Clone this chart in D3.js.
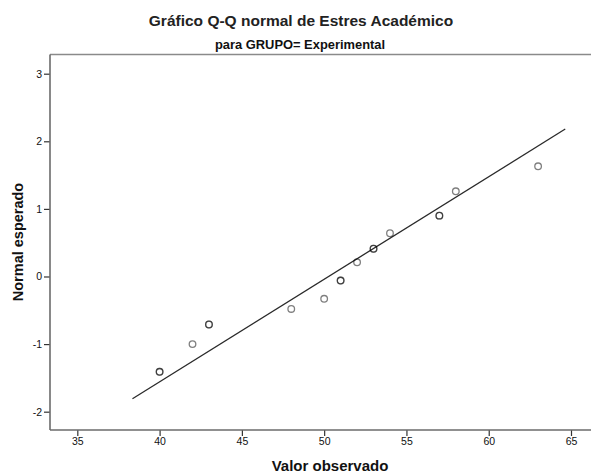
<!DOCTYPE html>
<html>
<head>
<meta charset="utf-8">
<script src="https://cdn.jsdelivr.net/npm/d3@7"></script>
<style>
  html, body { margin: 0; padding: 0; background: #fff; }
  svg { display: block; }
</style>
</head>
<body>
<svg id="chart" width="591" height="474"></svg>
<script>
// Observed values and their expected normal scores
const observed = [40, 42, 43, 48, 50, 51, 52, 53, 54, 57, 58, 63];
const expected = [-1.41, -1.0, -0.71, -0.48, -0.33, -0.06, 0.21, 0.41, 0.64, 0.90, 1.26, 1.63];
// number of cases sharing each value (tied cases overlap)
const cases = [2, 1, 2, 1, 1, 2, 1, 2, 1, 2, 1, 1];

const xTicks = [35, 40, 45, 50, 55, 60, 65];
const yTicks = [-2, -1, 0, 1, 2, 3];

// reference line: normal with mean and sd of the sample
const refMean = 50.27;
const refSd = 6.59;
const refRange = [38.35, 64.65];

const svg = d3.select("#chart");
const plotLeft = 50, plotRight = 591, plotTop = 54.5, plotBottom = 430;

const x = d3.scaleLinear().domain([33.34, 66.215]).range([plotLeft, plotRight]);
const y = d3.scaleLinear().domain([-2.271, 3.284]).range([plotBottom, plotTop]);

const font = "'Liberation Sans', Arial, sans-serif";
const axisColor = "#6b6b6b";

// titles
svg.append("text")
  .attr("x", 301).attr("y", 26)
  .attr("text-anchor", "middle")
  .style("font-family", font).style("font-size", "15.5px").style("font-weight", "bold")
  .attr("fill", "#222")
  .text("Gráfico Q-Q normal de Estres Académico");

svg.append("text")
  .attr("x", 300).attr("y", 48.5)
  .attr("text-anchor", "middle")
  .style("font-family", "'Liberation Sans Narrow', 'Arial Narrow', " + font)
  .style("font-size", "12.9px").style("font-weight", "bold")
  .attr("fill", "#111")
  .text("para GRUPO= Experimental");

// frame top line
svg.append("line")
  .attr("x1", plotLeft).attr("x2", plotRight)
  .attr("y1", plotTop).attr("y2", plotTop)
  .attr("stroke", "#8a8a8a").attr("stroke-width", 1.6);

// axes (plain hyphen for negatives)
const plain = d => String(d);
const xAxis = d3.axisBottom(x).tickValues(xTicks).tickSize(6).tickPadding(2).tickFormat(plain);
const yAxis = d3.axisLeft(y).tickValues(yTicks).tickSize(6).tickPadding(2).tickFormat(plain);

const gx = svg.append("g").attr("transform", `translate(0,${plotBottom})`).call(xAxis);
const gy = svg.append("g").attr("transform", `translate(${plotLeft},0)`).call(yAxis);

[gx, gy].forEach(g => {
  g.select(".domain").remove();
  g.selectAll(".tick line").attr("stroke", "#333").attr("stroke-width", 1.2);
  g.selectAll(".tick text")
    .style("font-family", font).style("font-size", "10.5px").attr("fill", "#111");
});

svg.append("line")
  .attr("x1", plotLeft).attr("x2", plotLeft).attr("y1", plotTop).attr("y2", plotBottom)
  .attr("stroke", axisColor).attr("stroke-width", 1.6);
svg.append("line")
  .attr("x1", plotLeft).attr("x2", plotRight).attr("y1", plotBottom).attr("y2", plotBottom)
  .attr("stroke", axisColor).attr("stroke-width", 1.6);

// axis titles
svg.append("text")
  .attr("x", 330).attr("y", 471)
  .attr("text-anchor", "middle")
  .style("font-family", font).style("font-size", "15px").style("font-weight", "bold")
  .attr("fill", "#111")
  .text("Valor observado");

svg.append("text")
  .attr("transform", "translate(23,242) rotate(-90)")
  .attr("text-anchor", "middle")
  .style("font-family", font).style("font-size", "14.5px").style("font-weight", "bold")
  .attr("fill", "#111")
  .text("Normal esperado");

// reference line
const line = d3.line().x(d => x(d)).y(d => y((d - refMean) / refSd));
svg.append("path")
  .attr("d", line(refRange))
  .attr("fill", "none").attr("stroke", "#2a2a2a").attr("stroke-width", 1.3);

// points: one circle per case, so ties draw darker
const pts = [];
observed.forEach((v, i) => {
  for (let k = 0; k < cases[i]; k++) pts.push({ v, z: expected[i] });
});
svg.append("g").selectAll("circle").data(pts).join("circle")
  .attr("cx", d => x(d.v)).attr("cy", d => y(d.z)).attr("r", 3.3)
  .attr("fill", "none").attr("stroke", "#000").attr("stroke-opacity", 0.5).attr("stroke-width", 1.3);
</script>
</body>
</html>
